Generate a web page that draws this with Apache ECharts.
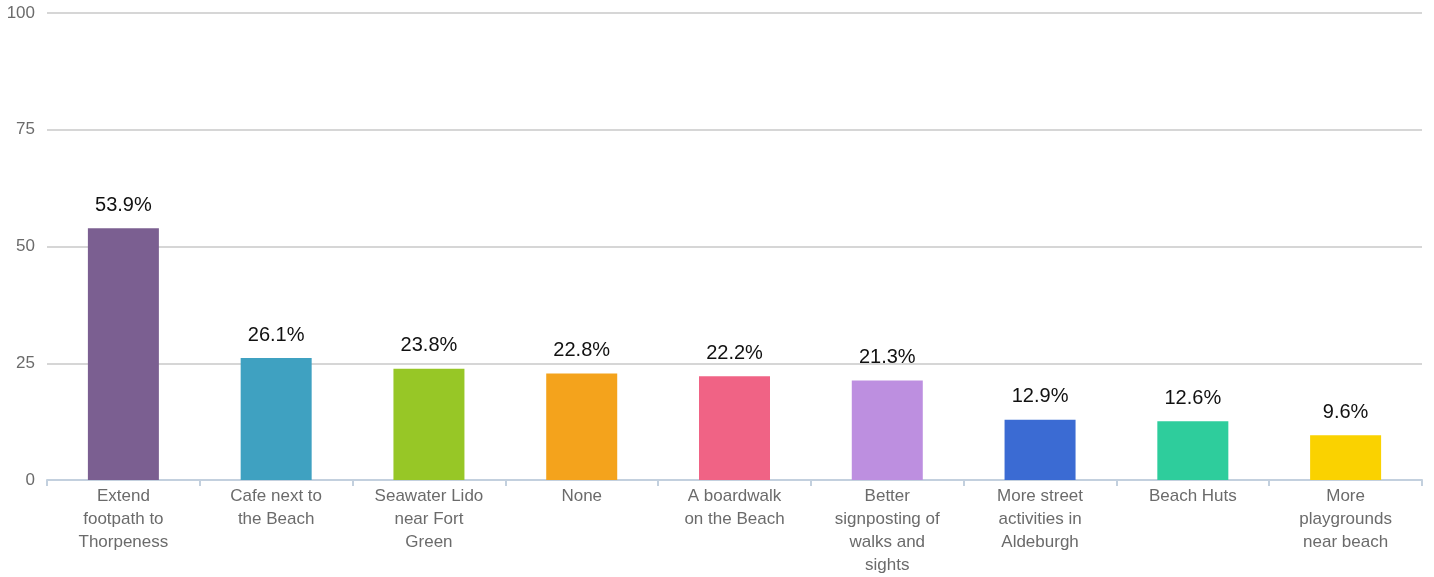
<!DOCTYPE html>
<html><head><meta charset="utf-8">
<script src="https://cdn.jsdelivr.net/npm/echarts@6/dist/echarts.min.js"></script>
<style>html,body{margin:0;padding:0;background:#fff}#c{width:1434px;height:577px}</style>
</head><body><div id="c"></div>
<script>
const categories = ["Extend\nfootpath to\nThorpeness","Cafe next to\nthe Beach","Seawater Lido\nnear Fort\nGreen","None","A boardwalk\non the Beach","Better\nsignposting of\nwalks and\nsights","More street\nactivities in\nAldeburgh","Beach Huts","More\nplaygrounds\nnear beach"];
const values = [53.9,26.1,23.8,22.8,22.2,21.3,12.9,12.6,9.6];
const colors = ["#7b5f91","#3fa1c1","#97c726","#f4a31c","#f06385","#bd8fe0","#3b6bd3","#2ecd9c","#fad200"];
const yTicks = [0,25,50,75,100];

const chart = echarts.init(document.getElementById('c'));
chart.setOption({
  animation:false,
  grid:{left:47,right:12,top:13,bottom:94,containLabel:false},
  xAxis:{type:'category',data:categories,
    axisLine:{lineStyle:{color:'#c3d0de',width:2}},
    axisTick:{show:true,length:6,lineStyle:{color:'#c3d0de',width:2}},
    axisLabel:{interval:0,color:'#6b6b6b',fontFamily:'Liberation Sans',fontSize:17,lineHeight:23,margin:5}},
  yAxis:{type:'value',min:0,max:100,interval:25,
    axisLine:{show:false},axisTick:{show:false},
    splitLine:{lineStyle:{color:'#c8c8c8',width:1.5}},
    axisLabel:{color:'#6b6b6b',fontFamily:'Liberation Sans',fontSize:17,margin:12,
      formatter:v=>yTicks.includes(v)?String(v):''}},
  series:[{type:'bar',barWidth:71,
    data:values.map((v,i)=>({value:v,itemStyle:{color:colors[i]}})),
    label:{show:true,position:'top',distance:13,color:'#111',fontFamily:'Liberation Sans',fontSize:20,formatter:p=>p.value.toFixed(1)+'%'}}]
});
</script></body></html>
